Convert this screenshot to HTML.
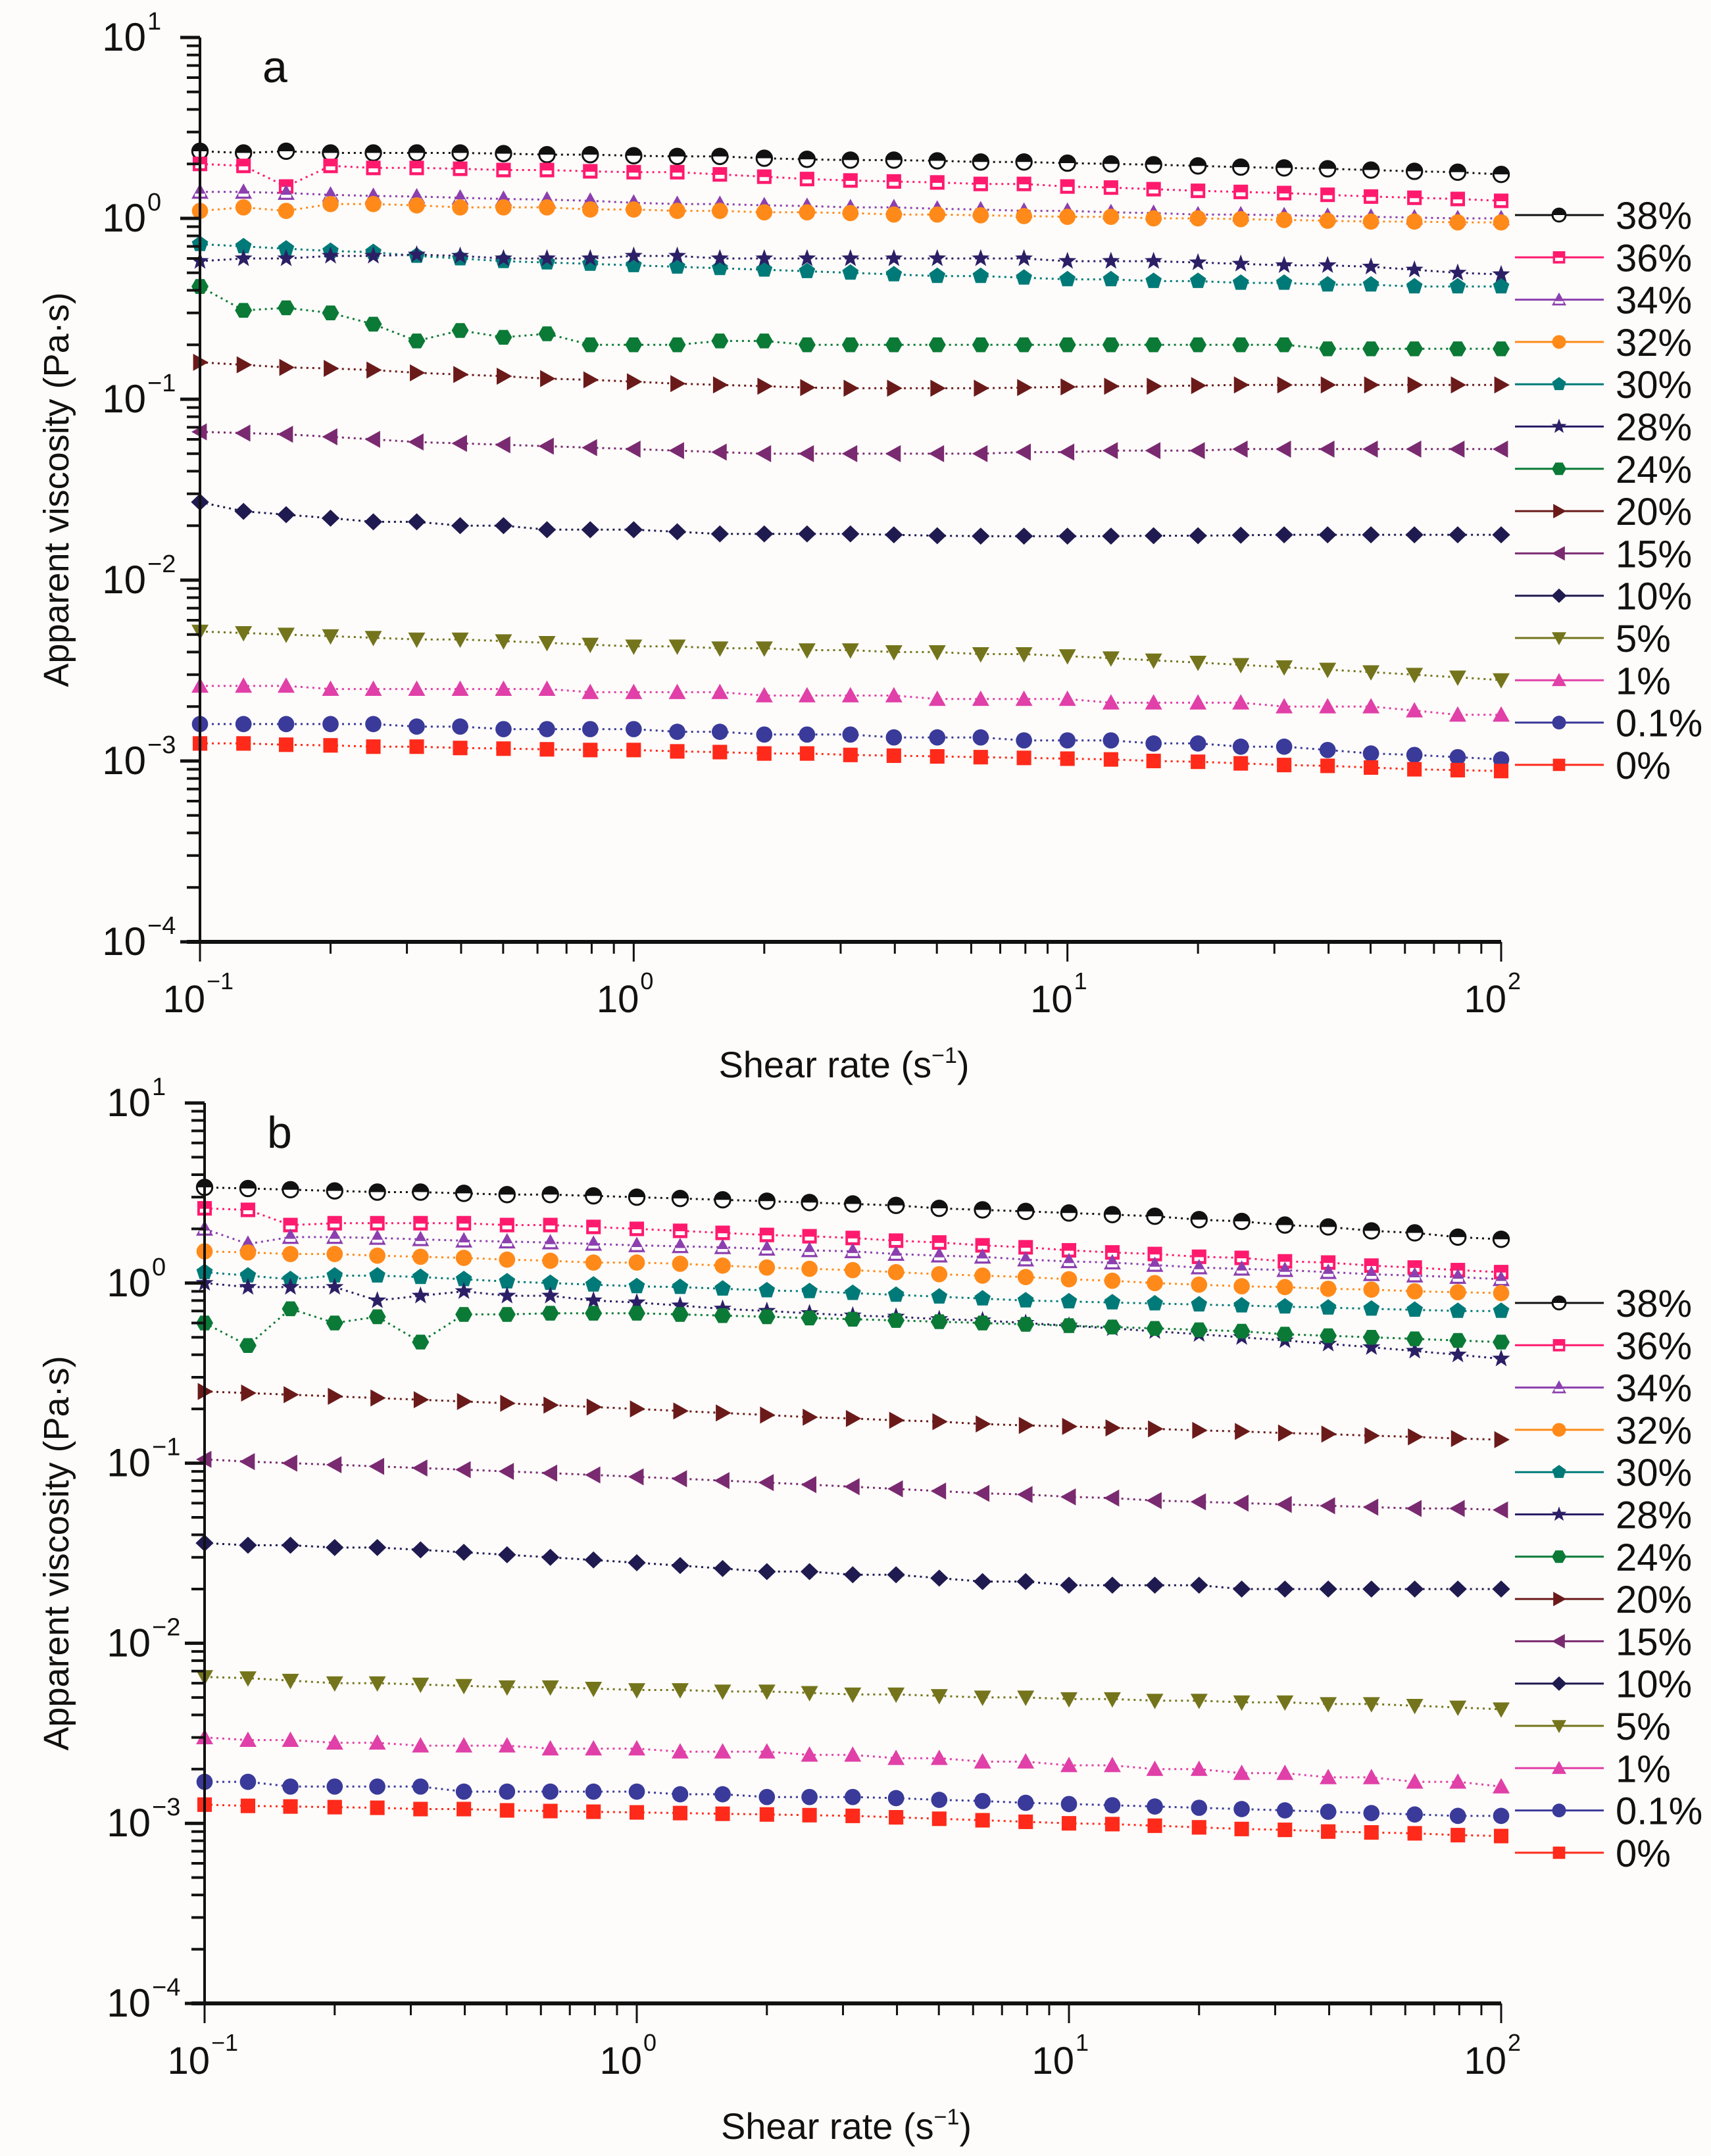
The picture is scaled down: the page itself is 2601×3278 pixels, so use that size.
<!DOCTYPE html>
<html><head><meta charset="utf-8">
<style>
html,body{margin:0;padding:0;background:#fdfcfa;}
svg{display:block;font-family:"Liberation Sans",Arial,sans-serif;}
</style></head>
<body>
<svg id="fig" xmlns="http://www.w3.org/2000/svg" width="2601" height="3278" viewBox="0 0 2601 3278">
<rect x="0" y="0" width="2601" height="3278" fill="#fdfcfa"/>
</svg>
<script>
// Shared x values: shear rate (s^-1), 10 points per decade
const shearRates = [0.1,0.126,0.158,0.2,0.251,0.316,0.398,0.501,0.631,0.794,1,1.26,1.58,2,2.51,3.16,3.98,5.01,6.31,7.94,10,12.6,15.8,20,25.1,31.6,39.8,50.1,63.1,79.4,100];
const seriesLabels = ["38%","36%","34%","32%","30%","28%","24%","20%","15%","10%","5%","1%","0.1%","0%"];
const xTickLabels = ["-1","0","1","2"];
const yTickLabels = ["1","0","-1","-2","-3","-4"];

// Panel a values (Pa·s)
const a38 = [2.35,2.3,2.35,2.3,2.3,2.3,2.3,2.28,2.25,2.25,2.22,2.2,2.2,2.15,2.12,2.1,2.1,2.08,2.05,2.05,2.02,2.0,1.98,1.95,1.92,1.9,1.88,1.85,1.82,1.8,1.75];
const a36 = [2.0,1.95,1.5,1.95,1.9,1.9,1.88,1.85,1.85,1.82,1.8,1.8,1.75,1.7,1.65,1.62,1.6,1.58,1.55,1.55,1.5,1.48,1.45,1.42,1.4,1.38,1.35,1.32,1.3,1.28,1.25];
const a34 = [1.4,1.4,1.38,1.35,1.33,1.32,1.3,1.28,1.27,1.25,1.22,1.2,1.2,1.18,1.17,1.15,1.15,1.13,1.12,1.1,1.1,1.08,1.07,1.05,1.05,1.04,1.03,1.02,1.01,1.0,1.0];
const a32 = [1.1,1.15,1.1,1.2,1.2,1.18,1.15,1.15,1.15,1.12,1.12,1.1,1.1,1.08,1.08,1.07,1.05,1.05,1.04,1.03,1.02,1.02,1.0,1.0,0.99,0.98,0.97,0.96,0.96,0.95,0.95];
const a30 = [0.72,0.7,0.68,0.66,0.65,0.62,0.6,0.58,0.57,0.56,0.55,0.54,0.53,0.52,0.51,0.5,0.49,0.48,0.48,0.47,0.46,0.46,0.45,0.45,0.44,0.44,0.43,0.43,0.42,0.42,0.42];
const a28 = [0.58,0.6,0.6,0.62,0.62,0.63,0.62,0.6,0.6,0.6,0.62,0.62,0.6,0.6,0.6,0.6,0.6,0.6,0.6,0.6,0.58,0.58,0.58,0.57,0.56,0.55,0.55,0.54,0.52,0.5,0.49];
const a24 = [0.42,0.31,0.32,0.3,0.26,0.21,0.24,0.22,0.23,0.2,0.2,0.2,0.21,0.21,0.2,0.2,0.2,0.2,0.2,0.2,0.2,0.2,0.2,0.2,0.2,0.2,0.19,0.19,0.19,0.19,0.19];
const a20 = [0.16,0.155,0.15,0.148,0.145,0.14,0.137,0.134,0.13,0.128,0.125,0.122,0.12,0.118,0.116,0.115,0.115,0.115,0.115,0.116,0.117,0.118,0.118,0.119,0.12,0.12,0.12,0.12,0.12,0.12,0.12];
const a15 = [0.066,0.065,0.064,0.062,0.06,0.058,0.057,0.056,0.055,0.054,0.053,0.052,0.051,0.05,0.05,0.05,0.05,0.05,0.05,0.051,0.051,0.052,0.052,0.052,0.053,0.053,0.053,0.053,0.053,0.053,0.053];
const a10 = [0.027,0.024,0.023,0.022,0.021,0.021,0.02,0.02,0.019,0.019,0.019,0.0185,0.018,0.018,0.018,0.018,0.0178,0.0176,0.0175,0.0175,0.0175,0.0175,0.0176,0.0176,0.0177,0.0178,0.0178,0.0178,0.0178,0.0178,0.0178];
const a5 = [0.0052,0.0051,0.005,0.0049,0.0048,0.0047,0.0047,0.0046,0.0045,0.0044,0.0043,0.0043,0.0042,0.0042,0.0041,0.0041,0.004,0.004,0.0039,0.0039,0.0038,0.0037,0.0036,0.0035,0.0034,0.0033,0.0032,0.0031,0.003,0.0029,0.0028];
const a1 = [0.0026,0.0026,0.0026,0.0025,0.0025,0.0025,0.0025,0.0025,0.0025,0.0024,0.0024,0.0024,0.0024,0.0023,0.0023,0.0023,0.0023,0.0022,0.0022,0.0022,0.0022,0.0021,0.0021,0.0021,0.0021,0.002,0.002,0.002,0.0019,0.0018,0.0018];
const a01 = [0.0016,0.0016,0.0016,0.0016,0.0016,0.00155,0.00155,0.0015,0.0015,0.0015,0.0015,0.00145,0.00145,0.0014,0.0014,0.0014,0.00135,0.00135,0.00135,0.0013,0.0013,0.0013,0.00125,0.00125,0.0012,0.0012,0.00115,0.0011,0.00108,0.00105,0.00102];
const a0 = [0.00125,0.00125,0.00123,0.00122,0.0012,0.0012,0.00118,0.00117,0.00116,0.00115,0.00115,0.00113,0.00112,0.0011,0.0011,0.00108,0.00107,0.00106,0.00105,0.00104,0.00103,0.00102,0.001,0.00099,0.00097,0.00095,0.00094,0.00092,0.0009,0.00089,0.00088];

// Panel b values (Pa·s)
const b38 = [3.4,3.35,3.3,3.25,3.2,3.2,3.15,3.1,3.1,3.05,3.0,2.95,2.9,2.85,2.8,2.75,2.7,2.6,2.55,2.5,2.45,2.4,2.35,2.25,2.2,2.1,2.05,1.95,1.9,1.8,1.75];
const b36 = [2.6,2.55,2.1,2.15,2.15,2.15,2.15,2.1,2.1,2.05,2.0,1.95,1.9,1.85,1.82,1.78,1.72,1.68,1.62,1.58,1.52,1.48,1.45,1.4,1.38,1.32,1.3,1.25,1.22,1.18,1.15];
const b34 = [2.0,1.65,1.8,1.8,1.78,1.75,1.72,1.7,1.68,1.65,1.62,1.6,1.58,1.55,1.52,1.5,1.45,1.42,1.4,1.35,1.32,1.3,1.26,1.22,1.2,1.18,1.15,1.12,1.1,1.08,1.05];
const b32 = [1.5,1.48,1.45,1.45,1.42,1.4,1.38,1.35,1.33,1.3,1.3,1.28,1.25,1.22,1.2,1.18,1.15,1.12,1.1,1.08,1.05,1.03,1.0,0.98,0.96,0.95,0.93,0.92,0.9,0.89,0.88];
const b30 = [1.15,1.1,1.05,1.1,1.1,1.08,1.05,1.02,1.0,0.98,0.96,0.95,0.93,0.91,0.9,0.88,0.86,0.84,0.82,0.8,0.79,0.78,0.77,0.76,0.75,0.74,0.73,0.72,0.71,0.7,0.7];
const b28 = [1.0,0.95,0.95,0.95,0.8,0.85,0.9,0.85,0.85,0.8,0.78,0.75,0.72,0.7,0.68,0.66,0.65,0.63,0.62,0.6,0.58,0.56,0.54,0.52,0.5,0.48,0.46,0.44,0.42,0.4,0.38];
const b24 = [0.6,0.45,0.72,0.6,0.65,0.47,0.67,0.67,0.68,0.68,0.68,0.67,0.66,0.65,0.64,0.63,0.62,0.61,0.6,0.59,0.58,0.57,0.56,0.55,0.54,0.52,0.51,0.5,0.49,0.48,0.47];
const b20 = [0.25,0.245,0.24,0.235,0.23,0.225,0.22,0.215,0.21,0.205,0.2,0.195,0.19,0.185,0.18,0.177,0.173,0.17,0.165,0.162,0.16,0.157,0.155,0.152,0.15,0.147,0.145,0.142,0.14,0.137,0.135];
const b15 = [0.105,0.102,0.1,0.098,0.096,0.094,0.092,0.09,0.088,0.086,0.084,0.082,0.08,0.078,0.076,0.074,0.072,0.07,0.068,0.067,0.065,0.064,0.062,0.061,0.06,0.059,0.058,0.057,0.056,0.056,0.055];
const b10 = [0.036,0.035,0.035,0.034,0.034,0.033,0.032,0.031,0.03,0.029,0.028,0.027,0.026,0.025,0.025,0.024,0.024,0.023,0.022,0.022,0.021,0.021,0.021,0.021,0.02,0.02,0.02,0.02,0.02,0.02,0.02];
const b5 = [0.0065,0.0064,0.0062,0.006,0.006,0.0059,0.0058,0.0057,0.0057,0.0056,0.0055,0.0055,0.0054,0.0054,0.0053,0.0052,0.0052,0.0051,0.005,0.005,0.0049,0.0049,0.0048,0.0048,0.0047,0.0047,0.0046,0.0046,0.0045,0.0044,0.0043];
const b1 = [0.003,0.0029,0.0029,0.0028,0.0028,0.0027,0.0027,0.0027,0.0026,0.0026,0.0026,0.0025,0.0025,0.0025,0.0024,0.0024,0.0023,0.0023,0.0022,0.0022,0.0021,0.0021,0.002,0.002,0.0019,0.0019,0.0018,0.0018,0.0017,0.0017,0.0016];
const b01 = [0.0017,0.0017,0.0016,0.0016,0.0016,0.0016,0.0015,0.0015,0.0015,0.0015,0.0015,0.00145,0.00145,0.0014,0.0014,0.0014,0.00138,0.00135,0.00133,0.0013,0.00128,0.00126,0.00124,0.00122,0.0012,0.00118,0.00116,0.00114,0.00112,0.0011,0.0011];
const b0 = [0.00127,0.00125,0.00124,0.00123,0.00122,0.0012,0.0012,0.00118,0.00117,0.00116,0.00115,0.00114,0.00113,0.00112,0.00111,0.0011,0.00108,0.00106,0.00104,0.00102,0.001,0.00099,0.00097,0.00095,0.00093,0.00092,0.0009,0.00089,0.00088,0.00086,0.00085];

const panelAValues = [a38,a36,a34,a32,a30,a28,a24,a20,a15,a10,a5,a1,a01,a0];
const panelBValues = [b38,b36,b34,b32,b30,b28,b24,b20,b15,b10,b5,b1,b01,b0];

const colors = ["#111111","#ff1a6e","#8c3fae","#ff8a1a","#007a78","#2b1f66","#0b7a36","#6b1a1a","#7a2a70","#1f1a4f","#74741c","#e040a8","#3a3a9a","#ff2a1a"];
const shapes = ["halfcircle","square","triangle","circle","pentagon","star","hexagon","right","left","diamond","down","triangle","circle","square"];

const NS = "http://www.w3.org/2000/svg";
const svg = document.getElementById("fig");
function mk(tag, attrs, parent){
  const e = document.createElementNS(NS, tag);
  for (const k in attrs) e.setAttribute(k, attrs[k]);
  (parent||svg).appendChild(e);
  return e;
}

function markerShape(g, shape, cx, cy, col, r){
  let e;
  if (shape==="circle"){
    e = mk("circle",{cx:cx,cy:cy,r:r*0.95,fill:col},g);
  } else if (shape==="halfcircle"){
    e = mk("g",{},g);
    mk("circle",{cx:cx,cy:cy,r:r*0.9,fill:"#fff",stroke:col,"stroke-width":3},e);
    mk("path",{d:`M${cx-r*0.9},${cy} A${r*0.9},${r*0.9} 0 0 1 ${cx+r*0.9},${cy} Z`,fill:col},e);
  } else if (shape==="square"){
    e = mk("g",{},g);
    mk("rect",{x:cx-r*0.85,y:cy-r*0.85,width:r*1.7,height:r*1.7,fill:col},e);
    if (col==="#ff1a6e") mk("rect",{x:cx-r*0.55,y:cy+r*0.05,width:r*1.1,height:r*0.45,fill:"#fff"},e);
  } else if (shape==="triangle"){
    e = mk("g",{},g);
    mk("polygon",{points:`${cx},${cy-r} ${cx+r},${cy+r*0.8} ${cx-r},${cy+r*0.8}`,fill:col},e);
    if (col==="#8c3fae") mk("rect",{x:cx-r*0.6,y:cy+r*0.2,width:r*1.2,height:r*0.35,fill:"#fff"},e);
  } else if (shape==="down"){
    e = mk("polygon",{points:`${cx},${cy+r} ${cx+r},${cy-r*0.8} ${cx-r},${cy-r*0.8}`,fill:col},g);
  } else if (shape==="right"){
    e = mk("polygon",{points:`${cx+r},${cy} ${cx-r*0.8},${cy-r} ${cx-r*0.8},${cy+r}`,fill:col},g);
  } else if (shape==="left"){
    e = mk("polygon",{points:`${cx-r},${cy} ${cx+r*0.8},${cy-r} ${cx+r*0.8},${cy+r}`,fill:col},g);
  } else if (shape==="diamond"){
    e = mk("polygon",{points:`${cx},${cy-r} ${cx+r*1.05},${cy} ${cx},${cy+r} ${cx-r*1.05},${cy}`,fill:col},g);
  } else if (shape==="pentagon" || shape==="hexagon"){
    const n = shape==="pentagon"?5:6; let p=[];
    for (let i=0;i<n;i++){ const a=-Math.PI/2+i*2*Math.PI/n + (n===6?Math.PI/6:0); p.push((cx+r*Math.cos(a)).toFixed(1)+","+(cy+r*Math.sin(a)).toFixed(1)); }
    e = mk("polygon",{points:p.join(" "),fill:col},g);
  } else if (shape==="star"){
    let p=[];
    for (let i=0;i<10;i++){ const a=-Math.PI/2+i*Math.PI/5; const rr=i%2?r*0.45:r*1.1; p.push((cx+rr*Math.cos(a)).toFixed(1)+","+(cy+rr*Math.sin(a)).toFixed(1)); }
    e = mk("polygon",{points:p.join(" "),fill:col},g);
  }
  return e;
}

function drawPanel(cfg){
  const {id, x0, x1, yTop, yBot, values, letter, legendY0} = cfg;
  const xScale = v => x0 + (Math.log10(v)+1)/3*(x1-x0);
  const yScale = v => yTop + (1-Math.log10(v))/5*(yBot-yTop);
  const g = mk("g",{});
  
  

  values.forEach((vals, si) => {
    const sg = mk("g",{},g);
    
    
    const pts = vals.map((v,i)=> xScale(shearRates[i]).toFixed(1)+","+yScale(v).toFixed(1)).join(" ");
    mk("polyline",{points:pts,fill:"none",stroke:colors[si],"stroke-width":3,"stroke-dasharray":"3,6"},sg);
    vals.forEach((v,i)=>{
      const m = markerShape(sg, shapes[si], xScale(shearRates[i]), yScale(v), colors[si], 13);
      
      
    });
  });

  const ax = mk("g",{stroke:"#111","stroke-width":4,fill:"none"},g);
  
  
  mk("line",{x1:x0,y1:yTop,x2:x0,y2:yBot},ax);
  mk("line",{x1:x0-20,y1:yBot,x2:x1,y2:yBot,"stroke-width":6},ax);
  for (let d=1; d>=-4; d--){
    const y = yScale(Math.pow(10,d));
    mk("line",{x1:x0-30,y1:y,x2:x0,y2:y,"stroke-width":5},ax);
    if (d>-4) for (let m=2;m<=9;m++){
      const ym = yScale(m*Math.pow(10,d-1));
      mk("line",{x1:x0-20,y1:ym,x2:x0,y2:ym,"stroke-width":4},ax);
    }
  }
  for (let d=-1; d<=2; d++){
    const x = xScale(Math.pow(10,d));
    mk("line",{x1:x,y1:yBot,x2:x,y2:yBot+30,"stroke-width":3},ax);
    if (d<2) for (let m=2;m<=9;m++){
      const xm = xScale(m*Math.pow(10,d));
      mk("line",{x1:xm,y1:yBot,x2:xm,y2:yBot+18,"stroke-width":3},ax);
    }
  }
  yTickLabels.forEach((lab,i)=>{
    const y = yScale(Math.pow(10,parseInt(lab)));
    const t = mk("text",{x:x0-82,y:y+20,"font-size":60,"text-anchor":"end",fill:"#111"},g);
    
    
    t.textContent = "10";
    const s = mk("text",{x:x0-80,y:y-12,"font-size":38,"text-anchor":"start",fill:"#111"},g);
    
    
    s.textContent = lab.replace('-','\u2212');
  });
  xTickLabels.forEach((lab)=>{
    const x = xScale(Math.pow(10,parseInt(lab)));
    const t = mk("text",{x:x+8,y:yBot+107,"font-size":58,"text-anchor":"end",fill:"#111"},g);
    
    
    t.textContent = "10";
    const s = mk("text",{x:x+10,y:yBot+72,"font-size":36,"text-anchor":"start",fill:"#111"},g);
    
    
    s.textContent = lab.replace('-','\u2212');
  });
  const L = mk("text",{x:x0+95,y:yTop+68,"font-size":68,fill:"#111"},g);
  
  
  L.textContent = letter;
  const yc = (yTop+yBot)/2;
  const yt = mk("text",{x:0,y:0,"font-size":54,"text-anchor":"middle",fill:"#111",transform:`translate(104,${yc}) rotate(-90)`},g);
  
  
  yt.textContent = "Apparent viscosity (Pa·s)";
  const xt = mk("text",{x:(x0+x1)/2-10,y:yBot+206,"font-size":56,"text-anchor":"middle",fill:"#111"},g);
  
  
  const t1 = mk("tspan",{},xt); t1.textContent = "Shear  rate (s";
  const t2 = mk("tspan",{dy:-22,"font-size":34},xt); t2.textContent = "\u22121";
  const t3 = mk("tspan",{dy:22},xt); t3.textContent = ")";

  const lg = mk("g",{},g);
  
  
  seriesLabels.forEach((lab,si)=>{
    const y = legendY0 + si*64.3;
    const eg = mk("g",{},lg);
    
    
    mk("line",{x1:2303,y1:y,x2:2438,y2:y,stroke:colors[si],"stroke-width":3},eg);
    markerShape(eg, shapes[si], 2370, y, colors[si], 11);
    const t = mk("text",{x:2456,y:y+21,"font-size":58,fill:"#111"},eg);
    t.textContent = lab;
  });
}

drawPanel({id:"panel-a", x0:304, x1:2282, yTop:57, yBot:1432, values:panelAValues, letter:"a", legendY0:327});
drawPanel({id:"panel-b", x0:311, x1:2282, yTop:1677, yBot:3046, values:panelBValues, letter:"b", legendY0:1981});
</script>
</body></html>
